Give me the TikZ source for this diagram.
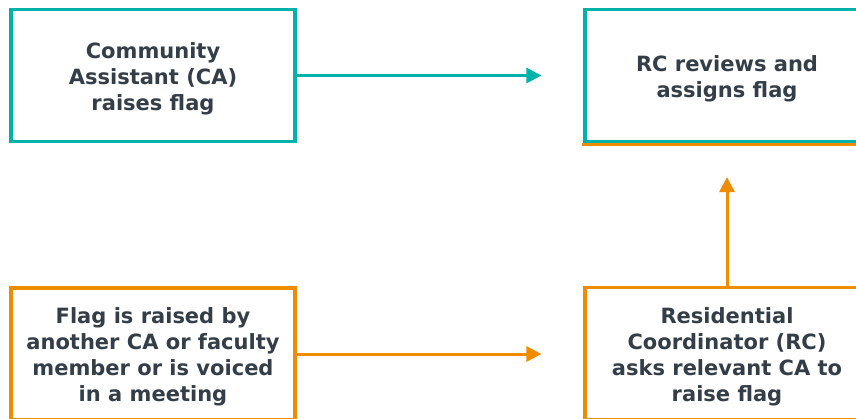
\documentclass[tikz,border=0pt]{standalone}
\usepackage{fontspec}
\setmainfont{DejaVu Sans}
\usetikzlibrary{arrows.meta}
\definecolor{tealc}{RGB}{0,178,170}
\definecolor{orangec}{RGB}{240,140,0}
\definecolor{inkc}{RGB}{52,62,72}
\tikzset{
  x=1pt, y=-1pt,
  flowbox/.style={draw, line width=3.2pt, minimum width=284pt, minimum height=132pt,
    inner sep=0pt},
  tealbox/.style={flowbox, draw=tealc},
  orangebox/.style={flowbox, draw=orangec},
  boxtext/.style={align=center, text=inkc, inner sep=0pt, yshift=-3pt,
    font=\fontsize{21}{26}\selectfont\bfseries},
  flowarrow/.style={line width=3pt, -{Triangle[length=15pt,width=15pt]}},
}
\begin{document}
\begin{tikzpicture}
  \useasboundingbox (0,0) rectangle (856,419);
  \clip (0,0) rectangle (856,419);
  \fill[white] (0,0) rectangle (856,419);
  % top row
  \node[tealbox] (ca) at (153,75.5) {};
  \node[boxtext] (catext) at (ca.center) {Community\\Assistant (CA)\\raises flag};
  \node[tealbox] (rev) at (727,75.5) {};
  \node[boxtext] (revtext) at (rev.center) {RC reviews and\\assigns flag};
  \draw[orangec, line width=3pt] ([xshift=-1.6pt,yshift=-1pt]rev.south west) -- ([xshift=1.6pt,yshift=-1pt]rev.south east);
  % bottom row
  \node[orangebox] (flag) at (153,354) {};
  \node[boxtext] (flagtext) at (flag.center) {Flag is raised by\\another CA or faculty\\member or is voiced\\in a meeting};
  \node[orangebox] (ask) at (727,353.5) {};
  \node[boxtext] (asktext) at (ask.center) {Residential\\Coordinator (RC)\\asks relevant CA to\\raise flag};
  % connectors
  \draw[flowarrow, tealc, shorten >=42pt] (ca.east) -- (rev.west);
  \draw[flowarrow, orangec, shorten >=42pt] (flag.east) -- (flag.east -| ask.west);
  \draw[flowarrow, orangec, shorten >=34pt] (ask.north) -- (rev.south);
\end{tikzpicture}
\end{document}
